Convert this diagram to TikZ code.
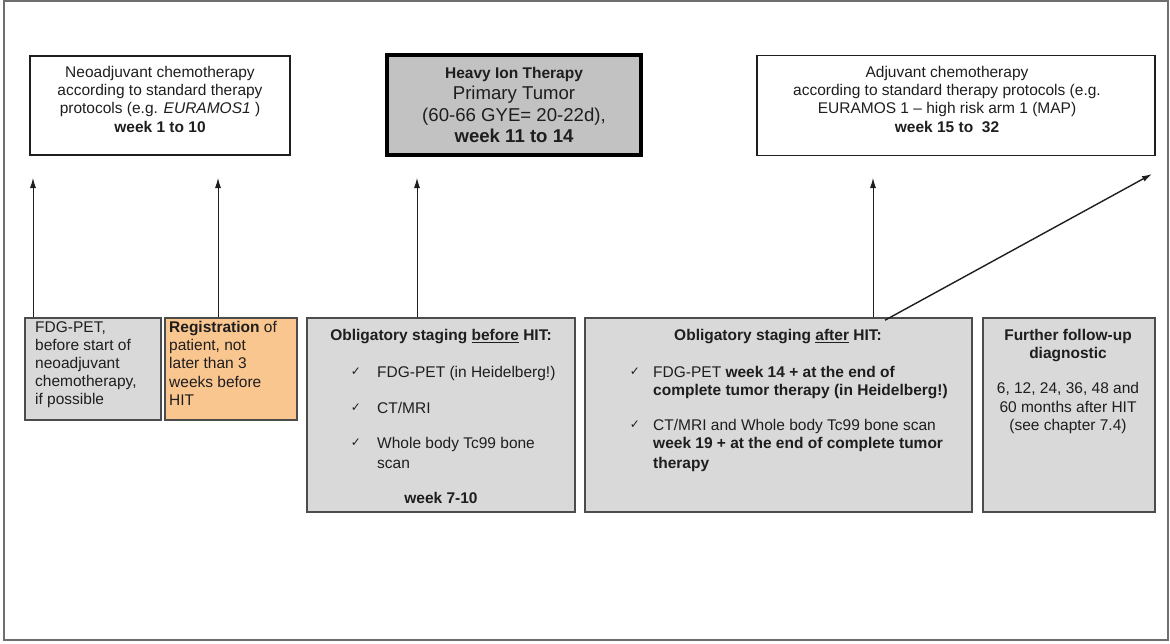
\documentclass[tikz,border=0pt]{standalone}
\usepackage{fontspec}
\setmainfont{Liberation Sans}
\newfontfamily\dejavu{DejaVu Sans}
\usetikzlibrary{arrows.meta}
\newcommand\myfs{\fontsize{15.5}{18.2}\selectfont}
\newcommand\mybig{\fontsize{18.6}{21.5}\selectfont}
\newcommand\chk{{\dejavu\fontsize{12}{12}\selectfont ✓}}
\definecolor{framegray}{HTML}{6E6E6E}
\definecolor{lgray}{HTML}{D9D9D9}
\definecolor{mgray}{HTML}{C2C2C2}
\definecolor{orng}{HTML}{FAC690}
\definecolor{ink}{HTML}{1E1E1E}
\tikzset{
  tbox/.style={draw=ink, line width=1.3pt, inner sep=0pt},
  bbox/.style={draw=black!70, line width=1.6pt, inner sep=0pt},
  txt/.style={inner sep=0pt, font=\myfs, text=ink, align=center, anchor=north},
  ltxt/.style={inner sep=0pt, font=\myfs, text=ink, align=left, anchor=north west},
  ck/.style={inner sep=0pt, text=ink},
  arr/.style={-{Latex[length=10pt,width=6pt]}, line width=0.9pt, draw=ink},
}
\begin{document}
\begin{tikzpicture}[x=1pt,y=-1pt]
\useasboundingbox (0,0) rectangle (1170,643);
\draw[framegray, line width=2pt] (4,1) rectangle (1168,640);

% top boxes
\node[tbox, minimum width=260pt, minimum height=99pt] (neo) at (160,105.5) {};
\node[txt] (neot) at (160,66) {Neoadjuvant chemotherapy\\according to standard therapy\\protocols (e.g. \textit{EURAMOS1} )\\\textbf{week 1 to 10}};

\node[draw=black, line width=4pt, fill=mgray, inner sep=0pt, minimum width=254pt, minimum height=100pt] (hit) at (514,105) {};
\node[txt, font=\mybig] (hitt) at (514,67) {{\myfs\bfseries Heavy Ion Therapy}\\Primary Tumor\\(60-66 GYE= 20-22d),\\\textbf{week 11 to 14}};

\node[tbox, minimum width=398pt, minimum height=100pt] (adj) at (956,105.5) {};
\node[txt] (adjt) at (947,66) {Adjuvant chemotherapy\\according to standard therapy protocols (e.g.\\EURAMOS 1 -- high risk arm 1 (MAP)\\\textbf{week 15 to\ \ 32}};

% bottom boxes
\node[bbox, fill=lgray, minimum width=136pt, minimum height=102pt] (b1) at (93,369) {};
\node[ltxt] (b1t) at (35,321) {FDG-PET,\\before start of\\neoadjuvant\\chemotherapy,\\if possible};

\node[bbox, fill=orng, minimum width=132pt, minimum height=102pt] (b2) at (231,369) {};
\node[ltxt] (b2t) at (169,321) {\textbf{Registration} of\\patient, not\\later than 3\\weeks before\\HIT};

\node[bbox, fill=lgray, minimum width=268pt, minimum height=194pt] (b3) at (441,415) {};
\node[txt] (b3h) at (441,329) {\textbf{Obligatory staging \underline{before} HIT:}};
\node[ck] (c31) at (356,372) {\chk};
\node[ltxt] (b3i1) at (377,366) {FDG-PET (in Heidelberg!)};
\node[ck] (c32) at (356,408) {\chk};
\node[ltxt] (b3i2) at (377,402) {CT/MRI};
\node[ck] (c33) at (356,443) {\chk};
\node[ltxt] (b3i3) at (377,437) {Whole body Tc99 bone\\[1.5pt]scan};
\node[txt] (b3w) at (441,492) {\textbf{week 7-10}};

\node[bbox, fill=lgray, minimum width=387pt, minimum height=194pt] (b4) at (778.5,415) {};
\node[txt] (b4h) at (778,329) {\textbf{Obligatory staging \underline{after} HIT:}};
\node[ck] (c41) at (635,372) {\chk};
\node[ltxt] (b4i1) at (653,366) {FDG-PET \textbf{week 14 + at the end of}\\\textbf{complete tumor therapy (in Heidelberg!)}};
\node[ck] (c42) at (635,425) {\chk};
\node[ltxt] (b4i2) at (653,419) {CT/MRI and Whole body Tc99 bone scan\\\textbf{week 19 + at the end of complete tumor}\\[1.5pt]\textbf{therapy}};

\node[bbox, fill=lgray, minimum width=172pt, minimum height=194pt] (b5) at (1069,415) {};
\node[txt] (b5t) at (1068,329) {\textbf{Further follow-up}\\\textbf{diagnostic}\\[17pt]6, 12, 24, 36, 48 and\\60 months after HIT\\(see chapter 7.4)};

% arrow ends
\coordinate (e1) at (33,178);
\coordinate (e2) at (218,178);
\coordinate (e3) at (417,178);
\coordinate (e4) at (873,178);
\coordinate (e5) at (1152,174);
\coordinate (s5) at (885,318);

\draw[arr] (e1 |- b1.north) -- (e1);
\draw[arr] (e2 |- b2.north) -- (e2);
\draw[arr] (e3 |- b3.north) -- (e3);
\draw[arr] (e4 |- b4.north) -- (e4);
\draw[arr, line width=1.4pt] ([yshift=-3pt]s5 |- b4.north) -- (e5);
\end{tikzpicture}
\end{document}
